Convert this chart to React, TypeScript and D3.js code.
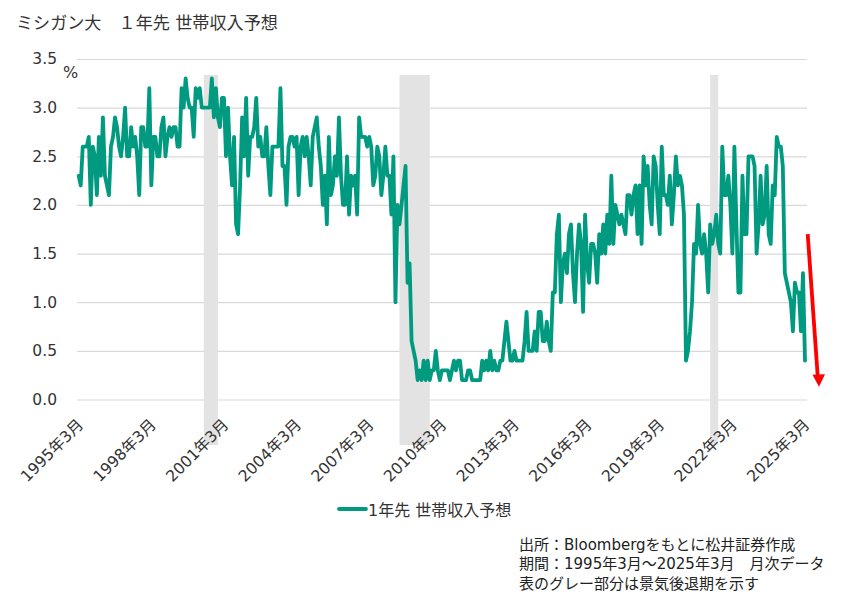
import { useEffect, useRef } from "react";
import * as d3 from "d3";

// monthly readings, Mar 1995 to Mar 2025, 12 values per row
const expected = [
  2.3,2.2,2.6,2.6,2.6,2.7,2.0,2.6,2.5,2.1,2.7,2.3,
  2.9,2.3,2.2,2.1,2.6,2.7,2.9,2.8,2.6,2.5,2.7,3.0,
  2.5,2.5,2.8,2.6,2.7,2.5,2.1,2.8,2.8,2.6,2.6,3.2,
  2.2,2.7,2.7,2.5,2.5,2.8,2.9,2.5,2.7,2.8,2.7,2.8,
  2.8,2.6,2.6,3.2,3.0,3.3,3.1,3.0,3.0,2.7,3.2,3.1,
  3.2,3.0,3.0,3.0,3.0,3.0,3.3,2.9,3.2,2.9,2.8,3.1,
  3.1,2.5,3.0,2.5,2.2,2.7,1.8,1.7,2.2,2.9,2.5,3.1,
  2.3,2.7,2.7,2.8,3.1,2.6,2.7,2.5,2.5,2.8,2.4,2.1,
  2.6,2.6,2.6,2.6,3.2,2.4,2.4,2.0,2.6,2.7,2.7,2.6,
  2.7,2.1,2.6,2.7,2.5,2.7,2.5,2.2,2.7,2.8,2.9,2.6,
  2.4,2.0,2.3,1.8,2.7,2.1,2.2,2.5,2.3,2.9,2.3,2.0,
  2.0,2.5,1.9,2.3,2.2,2.3,1.9,2.9,2.7,2.7,2.7,2.6,
  2.7,2.6,2.2,2.3,2.6,2.5,2.1,2.3,2.6,2.3,2.3,1.9,
  2.5,1.0,2.0,1.8,2.0,2.2,2.4,1.2,1.4,0.6,0.5,0.4,
  0.2,0.3,0.2,0.4,0.2,0.4,0.2,0.3,0.3,0.5,0.3,0.2,
  0.3,0.3,0.3,0.3,0.2,0.3,0.4,0.3,0.4,0.4,0.2,0.2,
  0.2,0.3,0.3,0.2,0.2,0.2,0.2,0.2,0.4,0.3,0.4,0.3,
  0.5,0.3,0.4,0.3,0.3,0.4,0.4,0.6,0.8,0.6,0.4,0.4,
  0.5,0.4,0.4,0.4,0.4,0.6,0.9,0.5,0.5,0.5,0.7,0.5,
  0.9,0.9,0.6,0.6,0.8,0.6,0.5,1.1,1.1,1.7,1.9,1.0,
  1.4,1.5,1.3,1.7,1.8,1.3,1.0,1.5,1.8,1.6,0.9,1.9,
  1.4,1.2,1.6,1.6,1.5,1.2,1.7,1.5,1.8,1.5,1.9,1.6,
  2.3,1.6,2.0,1.9,1.8,1.9,1.8,1.7,2.1,2.1,1.9,2.1,
  2.2,1.7,2.2,1.6,2.5,2.2,2.4,2.0,1.8,2.5,2.4,2.0,
  1.7,2.6,2.1,2.1,2.0,2.3,1.8,2.1,2.5,2.2,2.3,2.2,
  1.9,0.4,0.5,0.7,1.0,1.6,1.5,2.0,1.6,1.5,1.7,1.5,
  1.1,1.8,1.6,1.7,1.9,1.6,1.5,2.6,2.1,2.1,2.3,2.0,
  1.5,2.6,1.8,1.1,1.1,2.3,1.7,1.7,2.5,2.5,2.5,2.4,
  1.5,1.8,2.3,1.8,1.9,2.4,1.7,1.6,2.2,2.1,2.7,2.6,
  2.6,2.4,1.3,1.2,1.1,1.0,0.7,1.2,1.1,1.1,0.7,1.3,
  0.4,
];

const months = expected.map((_, i) => {
  const m = i + 2; // March 1995 is month 2 of 1995
  return `${1995 + Math.floor(m / 12)}年${(m % 12) + 1}月`;
});
const xTickLabels = ["1995年3月", "1998年3月", "2001年3月", "2004年3月", "2007年3月", "2010年3月", "2013年3月", "2016年3月", "2019年3月", "2022年3月", "2025年3月"];
const yTicks = [0, 0.5, 1, 1.5, 2, 2.5, 3, 3.5];
// grey columns, as they sit in the picture
const recessions = [
  ["2000年5月", "2000年12月"],
  ["2008年6月", "2009年9月"],
  ["2021年4月", "2021年8月"],
];
const notes = [
  "出所：Bloombergをもとに松井証券作成",
  "期間：1995年3月～2025年3月　月次データ",
  "表のグレー部分は景気後退期を示す",
];

const FONT = '"DejaVu Sans", "Noto Sans CJK JP", sans-serif';
const GREEN = "#009A80";

export default function App() {
  const svgRef = useRef<SVGSVGElement>(null);

  useEffect(() => {
    const svg = d3.select(svgRef.current);
    svg.selectAll("*").remove();

    const x = d3.scalePoint<string>().domain(months).range([78.7, 805]);
    const y = d3.scaleLinear().domain([0, 3.5]).range([399.5, 59]);

    // y axis, ticks run across as gridlines
    const yAxis = svg.append("g")
      .attr("transform", "translate(77,0)")
      .call(d3.axisLeft(y).tickValues(yTicks).tickFormat(d3.format(".1f")).tickSize(-730).tickPadding(20));
    yAxis.select(".domain").remove();
    yAxis.selectAll("line").attr("stroke", "#D9D9D9").attr("stroke-width", 1.2);
    yAxis.selectAll("text")
      .attr("font-family", FONT).attr("font-size", 15.5).attr("fill", "#333");

    // recession columns
    svg.append("g").selectAll("rect")
      .data(recessions)
      .join("rect")
      .attr("x", (d) => x(d[0])!)
      .attr("width", (d) => x(d[1])! - x(d[0])!)
      .attr("y", 75)
      .attr("height", 370)
      .attr("fill", "#E3E3E3");

    // x axis
    const xAxis = svg.append("g")
      .attr("transform", "translate(0,399.5)")
      .call(d3.axisBottom(x).tickValues(xTickLabels).tickSize(0));
    xAxis.select(".domain").remove();
    xAxis.selectAll("text")
      .attr("font-family", FONT).attr("font-size", 15.6).attr("fill", "#333")
      .attr("text-anchor", "end")
      .attr("dy", 0)
      .attr("transform", "translate(3,24) rotate(-45)");

    // the series
    const line = d3.line<number>()
      .x((_, i) => x(months[i])!)
      .y((d) => y(d));
    svg.append("path")
      .attr("d", line(expected))
      .attr("fill", "none")
      .attr("stroke", GREEN)
      .attr("stroke-width", 3.8)
      .attr("stroke-linejoin", "round")
      .attr("stroke-linecap", "round");

    // red arrow after the last reading
    const last = x(months[months.length - 1])!;
    svg.append("line")
      .attr("x1", last + 2.7).attr("y1", y(1.7))
      .attr("x2", last + 13).attr("y2", y(0.2))
      .attr("stroke", "#FF0000").attr("stroke-width", 3.8);
    const tipX = last + 14;
    const tipY = y(0.13);
    svg.append("path")
      .attr("d", `M${tipX},${tipY}L${tipX - 6.5},${tipY - 12}L${tipX + 6},${tipY - 12.5}Z`)
      .attr("fill", "#FF0000");

    // title and unit
    svg.append("text").attr("x", 16).attr("y", 29)
      .attr("font-family", FONT).attr("font-size", 17.1).attr("fill", "#333")
      .text("ミシガン大　１年先 世帯収入予想");
    svg.append("text").attr("x", 63).attr("y", 78)
      .attr("font-family", FONT).attr("font-size", 16).attr("fill", "#333")
      .text("%");

    // legend
    svg.append("line")
      .attr("x1", 339).attr("x2", 366).attr("y1", 509).attr("y2", 509)
      .attr("stroke", GREEN).attr("stroke-width", 3.8).attr("stroke-linecap", "round");
    svg.append("text").attr("x", 368).attr("y", 515.5)
      .attr("font-family", FONT).attr("font-size", 16).attr("fill", "#333")
      .text("1年先 世帯収入予想");

    // notes
    svg.append("g").selectAll("text")
      .data(notes)
      .join("text")
      .attr("x", 519)
      .attr("y", (_, i) => 549.5 + i * 19.5)
      .attr("font-family", FONT).attr("font-size", 15).attr("fill", "#222")
      .text((d) => d);
  }, []);

  return (
    <svg
      ref={svgRef}
      width={853}
      height={600}
      style={{ position: "absolute", left: 0, top: 0, display: "block", background: "#fff" }}
    ></svg>
  );
}
